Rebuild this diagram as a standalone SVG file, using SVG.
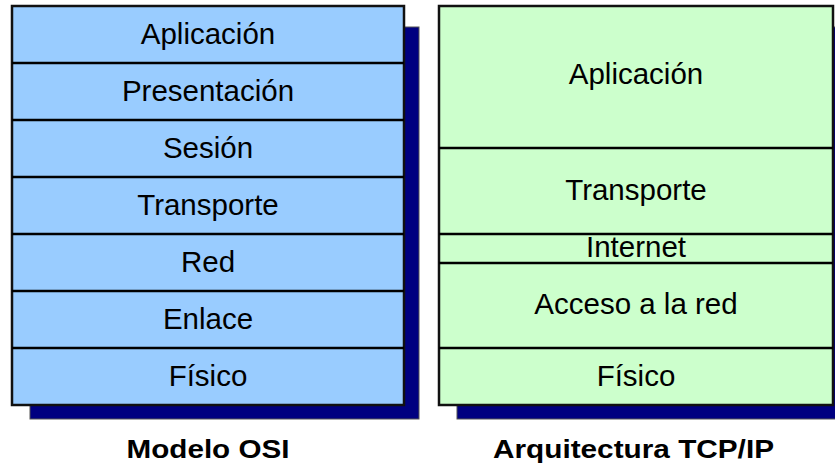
<svg xmlns="http://www.w3.org/2000/svg" width="835" height="468" viewBox="0 0 835 468">
<style>
.shadow{fill:#000080;stroke:#555;stroke-width:1}
.osi{fill:#99CCFF;stroke:#111;stroke-width:2.5}
.tcp{fill:#CCFFCC;stroke:#111;stroke-width:2.5}
.div{stroke:#000;stroke-width:2.5}
.t{font-family:"Liberation Sans",Arial,sans-serif;font-size:29.5px;fill:#000;text-anchor:middle}
.title{font-family:"Liberation Sans",Arial,sans-serif;font-size:26px;font-weight:bold;fill:#000;text-anchor:middle}
</style>
<rect width="835" height="468" fill="#fff"/>
<g id="osi-model">
<rect class="shadow" x="30" y="27" width="389" height="392"/>
<rect class="osi" x="12" y="6" width="392" height="399"/>
</g>
<g id="tcp-model">
<rect class="shadow" x="457" y="27" width="400" height="392"/>
<rect class="tcp" x="439" y="6" width="394" height="399"/>
</g>
<g id="connectors">
<line class="div" x1="12" y1="63" x2="404" y2="63"/>
<line class="div" x1="12" y1="120" x2="404" y2="120"/>
<line class="div" x1="12" y1="177" x2="404" y2="177"/>
<line class="div" x1="12" y1="234" x2="404" y2="234"/>
<line class="div" x1="12" y1="291" x2="404" y2="291"/>
<line class="div" x1="12" y1="348" x2="404" y2="348"/>
<line class="div" x1="439" y1="148" x2="833" y2="148"/>
<line class="div" x1="439" y1="234" x2="833" y2="234"/>
<line class="div" x1="439" y1="263" x2="833" y2="263"/>
<line class="div" x1="439" y1="348" x2="833" y2="348"/>
</g>
<g id="osi-aplicacion"><text class="t" x="208" y="43.5">Aplicación</text></g>
<g id="osi-presentacion"><text class="t" x="208" y="100.5">Presentación</text></g>
<g id="osi-sesion"><text class="t" x="208" y="157.5">Sesión</text></g>
<g id="osi-transporte"><text class="t" x="208" y="214.5">Transporte</text></g>
<g id="osi-red"><text class="t" x="208" y="271.5">Red</text></g>
<g id="osi-enlace"><text class="t" x="208" y="328.5">Enlace</text></g>
<g id="osi-fisico"><text class="t" x="208" y="385.5">Físico</text></g>
<g id="tcp-aplicacion"><text class="t" x="636" y="84">Aplicación</text></g>
<g id="tcp-transporte"><text class="t" x="636" y="200">Transporte</text></g>
<g id="tcp-internet"><text class="t" x="636" y="256.5">Internet</text></g>
<g id="tcp-acceso"><text class="t" x="636" y="314">Acceso a la red</text></g>
<g id="tcp-fisico"><text class="t" x="636" y="385.5">Físico</text></g>
<g id="label-osi"><text class="title" x="208" y="458" textLength="163" lengthAdjust="spacingAndGlyphs">Modelo OSI</text></g>
<g id="label-tcp"><text class="title" x="633.5" y="458" textLength="281" lengthAdjust="spacingAndGlyphs">Arquitectura TCP/IP</text></g>
</svg>
